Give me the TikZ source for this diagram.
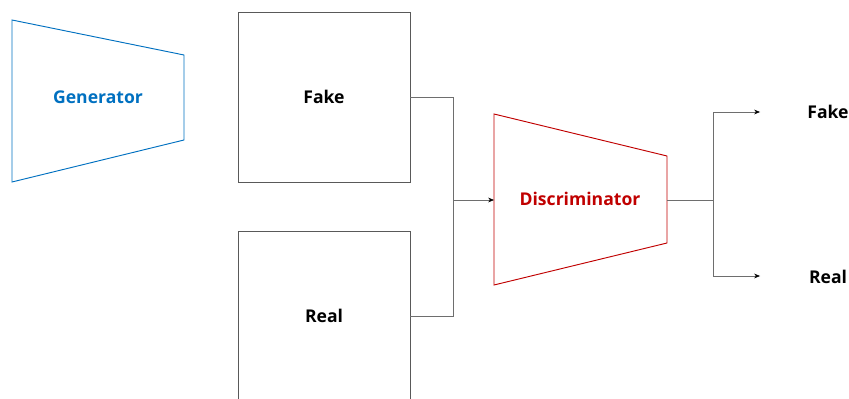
\documentclass[tikz,border=0pt]{standalone}
\usepackage{fontspec}
\setmainfont{Open Sans}
\usetikzlibrary{arrows.meta,positioning}

\definecolor{genblue}{RGB}{0,112,192}
\definecolor{discred}{RGB}{192,0,0}
\definecolor{boxgray}{RGB}{89,89,89}
\definecolor{linegray}{RGB}{110,110,110}

\begin{document}
\begin{tikzpicture}[x=0.03cm,y=-0.03cm,>={Stealth[length=5pt,width=4pt,black]},
  semithick,font=\fontsize{15}{17}\selectfont\bfseries]
  \tikzstyle{every node}=[inner sep=0pt]
  \tikzstyle{databox}=[draw=boxgray,line width=0.8pt,minimum width=5.16cm,
    minimum height=5.1cm]
  \tikzstyle{wire}=[draw=linegray,line width=0.6pt]
  \useasboundingbox (0,0) rectangle (849,399);

  % generator
  \draw[genblue,line width=0.8pt] (12,20) -- (184,55) -- (184,140) -- (12,182) -- cycle;
  \node[text=genblue] (gen) at (98,97) {Generator};

  % data
  \node[databox] (fake) at (324,97) {Fake};
  \node[databox] (real) at (324,316) {Real};

  % discriminator
  \draw[discred,line width=0.8pt] (494,114) -- (667,156) -- (667,243) -- (494,285) -- cycle;
  \node[text=discred] (disc) at (580,199) {Discriminator};
  \coordinate (discin) at (494,200);
  \coordinate (discout) at (667,200);

  % outputs
  \node (outfake) at (828,112) {Fake};
  \node (outreal) at (828,277) {Real};

  \coordinate (join) at (453,200);
  \coordinate (split) at (713,200);
  \coordinate (fakeend) at (760,112);
  \coordinate (realend) at (760,276);

  \path[wire] (fake.east) -| (join)
        (real.east) -| (join)
        (discout) -- (split)
        ;
  \path[wire,->] (join) edge (discin)
        (split) |- (fakeend)
        ;
  \draw[wire,->] (split) |- (realend);
\end{tikzpicture}
\end{document}
